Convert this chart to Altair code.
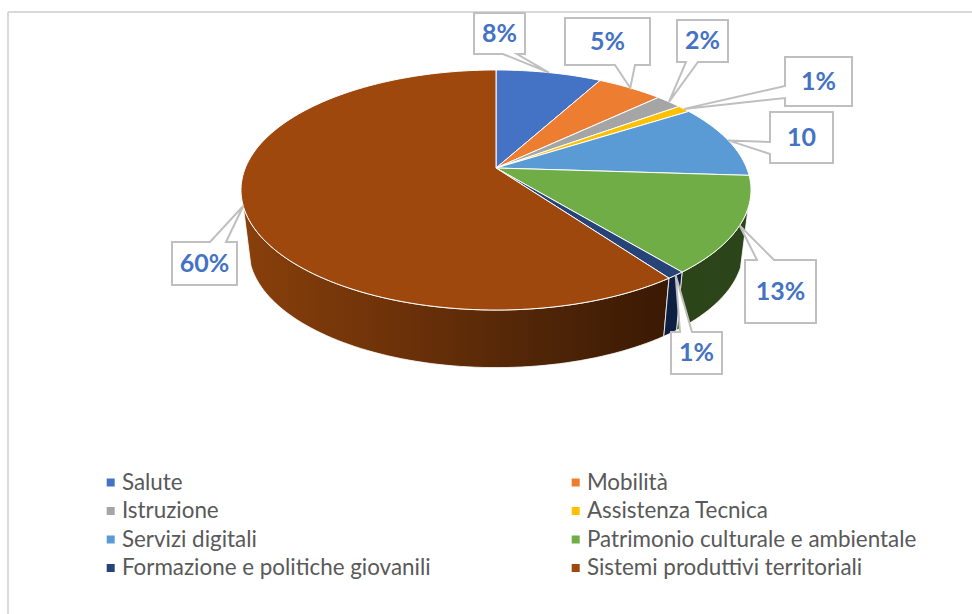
import math
import altair as alt
import pandas as pd

# Spending shares by mission
categories = ["Salute", "Mobilità", "Istruzione", "Assistenza Tecnica", "Servizi digitali",
              "Patrimonio culturale e ambientale", "Formazione e politiche giovanili",
              "Sistemi produttivi territoriali"]
values = [8, 5, 2, 1, 10, 13, 1, 60]
value_labels = ["8%", "5%", "2%", "1%", "10", "13%", "1%", "60%"]
colors = ["#4472C4", "#ED7D31", "#A5A5A5", "#FFC000", "#5B9BD5", "#70AD47", "#264478", "#9E480E"]

W, H = 972, 614
CX, CY = 496.0, 168.0      # apex of the wedges on the top face
AX, BY, Q = 250.7, 116.0, 0.1833  # tilt of the disc and its perspective
SX, Y0, SY = 0.97, 228.0, 0.983   # lower rim relative to the top rim
SILHOUETTE_R, SILHOUETTE_L = math.radians(109), math.radians(252)  # where the side wall turns away


def rim(theta):
    u, v = math.sin(theta), math.cos(theta)
    d = 1 + Q * v
    return CX + AX * u / d, CY - BY * v / d


def lower_rim(theta):
    x, y = rim(theta)
    return CX + SX * (x - CX), Y0 + SY * (y - CY)


total = sum(values)
edges = [0.0]
for v in values:
    edges.append(edges[-1] + v)
angle = lambda c: 2 * math.pi * c / total


def arc_angles(a0, a1):
    n = max(2, int(abs(a1 - a0) / math.radians(1.5)) + 2)
    return [a0 + (a1 - a0) * k / (n - 1) for k in range(n)]


# Top faces
top_rows = []
for name, c0, c1 in zip(categories, edges[:-1], edges[1:]):
    pts = [(CX, CY)] + [rim(t) for t in arc_angles(angle(c0), angle(c1))]
    for i, (x, y) in enumerate(pts):
        top_rows.append({"cat": name, "i": i, "x": x, "y": y})
top_df = pd.DataFrame(top_rows)

x_scale = alt.Scale(domain=[0, W], range=[0, W], nice=False, zero=False)
y_scale = alt.Scale(domain=[0, H], range=[0, H], nice=False, zero=False)
X = alt.X("x:Q", scale=x_scale, axis=None)
Y = alt.Y("y:Q", scale=y_scale, axis=None)


def wall(idx, stops):
    # Only the part of the slice's outer edge that faces the viewer
    a0 = max(angle(edges[idx]), SILHOUETTE_R)
    a1 = min(angle(edges[idx + 1]), SILHOUETTE_L)
    ts = arc_angles(a0, a1)
    pts = [rim(t) for t in ts] + [lower_rim(t) for t in reversed(ts)]
    df = pd.DataFrame([{"i": i, "x": x, "y": y} for i, (x, y) in enumerate(pts)])
    grad = alt.Gradient(gradient="linear", x1=0, x2=1, y1=0, y2=0,
                        stops=[alt.GradientStop(offset=o, color=c) for o, c in stops])
    return alt.Chart(df).mark_line(interpolate="linear-closed", fill=grad, stroke="#ffffff",
                                   strokeWidth=0.8).encode(x=X, y=Y, order="i:Q")


walls = [
    wall(5, [(0, "#2b4519"), (1, "#2c4419")]),
    wall(7, [(0, "#88400b"), (0.35, "#6e3209"), (0.7, "#4f2507"), (1, "#3a1903")]),
    wall(6, [(0, "#0d1f42"), (1, "#0d1f42")]),
]

top_faces = alt.Chart(top_df).mark_line(
    interpolate="linear-closed", filled=True, stroke="#ffffff", strokeWidth=1
).encode(
    x=X, y=Y, order="i:Q",
    color=alt.Color(
        "cat:N",
        scale=alt.Scale(domain=categories, range=colors),
        legend=alt.Legend(
            title=None, orient="none", legendX=99.5, legendY=470.5, columns=2, direction="horizontal",
            symbolType="square", symbolSize=64, symbolStrokeWidth=0, labelFont="Lato", labelFontSize=22.4,
            labelColor="#595959", labelLimit=420, columnPadding=133, rowPadding=4.5, clipHeight=24,
            labelOffset=0, gridAlign="each",
        ),
    ),
)

# Callouts: box edges, the side carrying the pointer, and where the pointer leaves that side
callouts = [
    (474, 13, 525, 54, "bottom", 517, 503),
    (565, 18, 650, 65, "bottom", 635, 615),
    (677, 20, 728, 62, "bottom", 698, 686),
    (785, 57, 852, 106, "left", 98, 86),
    (770, 112, 833, 163, "left", 154, 142),
    (745, 260, 816, 323, "top", 757, 774),
    (671, 332, 722, 374, "top", 680, 692),
    (172, 242, 237, 285, "top", 210, 226),
]

call_rows, text_rows = [], []
for k, (x0, y0, x1, y1, side, b0, b1) in enumerate(callouts):
    tip = rim(angle((edges[k] + edges[k + 1]) / 2))
    if side == "bottom":
        pts = [(x0, y0), (x1, y0), (x1, y1), (b0, y1), tip, (b1, y1), (x0, y1)]
    elif side == "left":
        pts = [(x0, y0), (x1, y0), (x1, y1), (x0, y1), (x0, b0), tip, (x0, b1)]
    else:
        pts = [(x0, y0), (b0, y0), tip, (b1, y0), (x1, y0), (x1, y1), (x0, y1)]
    for i, (x, y) in enumerate(pts):
        call_rows.append({"k": k, "i": i, "x": x, "y": y})
    text_rows.append({"x": (x0 + x1) / 2, "y": (y0 + y1) / 2, "label": value_labels[k]})

call_marks = alt.Chart(pd.DataFrame(call_rows)).mark_line(
    interpolate="linear-closed", fill="#ffffff", stroke="#bfbfbf", strokeWidth=2
).encode(x=X, y=Y, order="i:Q", detail="k:N")

call_text = alt.Chart(pd.DataFrame(text_rows)).mark_text(
    font="Lato", fontWeight="bold", fontSize=25, color="#4472C4", align="center", baseline="middle"
).encode(x=X, y=Y, text="label:N")

# Chart area border
frame_h = alt.Chart(pd.DataFrame({"x": [8], "x2": [W], "y": [12]})).mark_rule(
    color="#d9d9d9", strokeWidth=2).encode(x=X, x2="x2:Q", y=Y)
frame_v = alt.Chart(pd.DataFrame({"x": [8], "y": [12], "y2": [H]})).mark_rule(
    color="#d9d9d9", strokeWidth=2).encode(x=X, y=Y, y2="y2:Q")

chart = alt.layer(frame_h, frame_v, *walls, top_faces, call_marks, call_text).properties(
    width=W, height=H, padding=0, autosize=alt.AutoSizeParams(type="none"), background="#ffffff"
).configure_view(stroke=None)

chart.save("out.html", embed_options={"renderer": "svg", "actions": False})
